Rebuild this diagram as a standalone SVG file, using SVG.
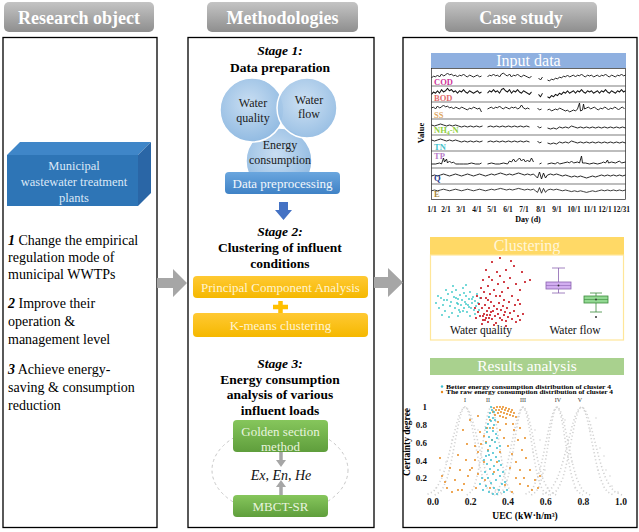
<svg xmlns="http://www.w3.org/2000/svg" width="639" height="532" viewBox="0 0 639 532">
<style>
text{font-family:"Liberation Serif","Times New Roman",serif;}
.hdr{fill:#fff;font-size:18px;font-weight:bold;text-anchor:middle}
.panel{fill:#fff;stroke:#000;stroke-width:1.3}
.lt{font-size:14px;fill:#000}
.num{font-weight:bold;font-style:italic}
.mh{font-size:13.5px;font-weight:bold;text-anchor:middle;fill:#000}
.ct{font-size:12px;text-anchor:middle;fill:#1a1a1a}
.bt{font-size:13px;text-anchor:middle}
.ts{fill:none;stroke:#111;stroke-width:0.9;stroke-linejoin:round}
.sep{stroke:#222;stroke-width:0.6}
.rl{font-size:8.5px;font-weight:bold}
.ax{font-size:7.5px;font-weight:bold;text-anchor:middle;fill:#111}
.ay{font-size:9px;font-weight:bold;text-anchor:end;fill:#111}
.ax2{font-size:9.5px;font-weight:bold;text-anchor:middle;fill:#111}
.dots{fill:none;stroke-linecap:round}
.cloud{fill:none;stroke:#d2d2d2;stroke-width:1.6;stroke-dasharray:1.2 2.4}
.garr{fill:#a6a6a6}
</style>
<defs>
<linearGradient id="gh" x1="0" y1="0" x2="0" y2="1"><stop offset="0" stop-color="#c4c4c4"/><stop offset="1" stop-color="#8e8e8e"/></linearGradient>
<radialGradient id="gcirc" cx="0.45" cy="0.4" r="0.6"><stop offset="0" stop-color="#c9def2"/><stop offset="1" stop-color="#92bbe2"/></radialGradient>
<linearGradient id="gblue" x1="0" y1="0" x2="0" y2="1"><stop offset="0" stop-color="#6aa6de"/><stop offset="1" stop-color="#3f82c6"/></linearGradient>
<linearGradient id="gyel" x1="0" y1="0" x2="0" y2="1"><stop offset="0" stop-color="#ffc933"/><stop offset="1" stop-color="#f5b800"/></linearGradient>
<linearGradient id="ggrn" x1="0" y1="0" x2="0" y2="1"><stop offset="0" stop-color="#86c65c"/><stop offset="1" stop-color="#5f9e3c"/></linearGradient>
<path id="sA" d="M0,2 L2,0 L4,1 L6,-1 L8,1 L10,-2 L12,0 L14,-1 L16,-3 L18,-1 L20,-2 L22,0 L24,-1 L26,1 L28,-1 L30,0 L32,-2 L34,0 L36,1 L38,-1 L40,0 L42,1 L44,0 L46,-1 L48,1 L50,0 M56,1 L58,-1 L60,0 L62,-2 L64,0 L66,-1 L68,1 L70,-2 L72,-3 L74,-1 L76,0 L78,-2 L80,1 L82,-1 L84,0 L86,-2 L88,0 L90,1 L92,-1 L94,0 L96,1 L98,2 L100,0 M107,2 L109,4 L111,1 M116,4 L118,5 L120,3 L122,4 L124,2 L126,3 L128,1 L130,2 L132,0 L134,1 L136,-1 L138,1 L140,0 L142,-1 L144,1 L146,-1 L148,0 L150,-2 L152,0 L154,1 L156,-1 L158,0 L160,-1 L162,1 L164,0 L166,-1 L168,1 L170,-1 L172,0 L174,-2 L176,0 L178,1 L180,-1 L182,0 L184,1 L186,-1 L188,0 L190,-2 L192,0 L194,-1"/>
<path id="sB" d="M0,0 L2,-1 L4,1 L6,-2 L8,0 L10,-1 L12,-3 L14,-1 L16,-2 L18,0 L20,-1 L22,1 L24,-1 L26,0 L28,1 L30,-1 L32,0 L34,1 L36,2 L38,0 L40,1 L42,-1 L44,0 L46,1 L48,0 L50,4 M56,1 L58,0 L60,-1 L62,1 L64,-1 L66,0 L68,-2 L70,0 L72,1 L74,-1 L76,0 L78,1 L80,-1 L82,0 L84,-1 L86,1 L88,0 L90,-3 L92,0 L94,1 L96,0 L98,1 M106,0 L108,2 L110,1 M116,2 L118,1 L120,3 L122,2 L124,1 L126,2 L128,0 L130,1 L132,2 L134,3 L136,2 L138,4 L140,3 L142,2 L144,3 L146,1 L148,-5 L149,3 L151,2 L152,-4 L153,1 L155,0 L157,-1 L159,1 L161,0 L163,-1 L165,1 L167,2 L169,0 L171,1 L173,-1 L175,0 L177,2 L179,0 L181,1 L183,-1 L185,0 L187,2 L189,0 L191,-1 L193,1"/>
<path id="sC" d="M0,-1 L3,0 L6,-1 L9,-2 L12,-1 L15,0 L18,-1 L21,0 L24,-1 L27,0 L30,1 L33,0 L36,1 L39,0 L42,1 L45,0 L48,1 L51,0 M56,1 L59,0 L62,1 L65,0 L68,1 L71,0 L74,1 L77,0 L80,1 L83,0 L86,1 L89,0 L92,1 L95,0 L98,1 M106,0 L108,2 L110,1 M116,2 L119,3 L122,2 L125,3 L128,1 L131,2 L134,1 L137,2 L140,0 L143,1 L146,2 L149,1 L152,2 L155,1 L158,2 L161,1 L164,2 L167,1 L170,2 L173,1 L176,2 L179,1 L182,2 L185,1 L188,2 L191,1 L194,2"/>
<path id="sD" d="M0,0 L4,0 L8,-1 L10,0 L12,-6 L13,-2 L15,-5 L16,-1 L18,-3 L20,-1 L22,-2 L24,0 L28,0 L32,0 L36,0 L40,-1 L44,0 L48,0 L50,-1 M56,0 L60,-1 L64,0 L68,0 L72,-1 L76,0 L78,-3 L80,-2 L82,-5 L84,-2 L86,-4 L88,-6 L90,-3 L92,-5 L94,-2 L96,-4 L98,-2 L100,-6 L102,-2 M108,0 L110,-1 M116,0 L120,-1 L124,0 L126,-2 L128,0 L132,-1 L136,-2 L138,-1 L140,-3 L142,-1 L146,-2 L148,-1 L150,-8 L151,-1 L154,-1 L158,0 L162,-1 L166,0 L170,-1 L172,-2 L174,-1 L176,-4 L177,-1 L180,-2 L184,-1 L188,-3 L190,-1 L194,-2"/>
<path id="sE" d="M0,1 L3,0 L6,1 L9,0 L12,-1 L15,0 L18,1 L21,0 L24,-1 L27,0 L30,1 L33,0 L36,-1 L39,0 L42,1 L45,0 L48,-1 L51,0 L54,1 L57,0 L60,-1 L63,0 L66,-1 L69,-2 L72,-1 L75,0 L78,-1 L81,0 L84,-1 L87,-2 L90,-1 L93,0 L96,-1 L99,0 L102,-1 L104,1 L106,3 L108,-3 L110,4 L112,-2 L114,3 L116,0 L119,-1 L122,0 L125,-1 L128,0 L131,1 L134,0 L137,1 L140,2 L143,1 L146,2 L149,1 L152,2 L155,3 L158,2 L161,1 L164,2 L167,1 L170,0 L173,1 L176,0 L179,1 L182,0 L185,1 L188,0 L191,1 L194,0"/>
<path id="gc" vector-effect="non-scaling-stroke" d="M-30.3,495.1 L-24.5,491.6 L-21.5,487.1 L-17.9,478.2 L-15.5,469.3 L-13.5,460.4 L-11.8,451.5 L-10.1,442.6 L-8.4,433.7 L-6.7,424.8 L-4.6,415.9 L-3.2,411.5 L-1.4,407.9 L0,407 L1.4,407.9 L3.2,411.5 L4.6,415.9 L6.7,424.8 L8.4,433.7 L10.1,442.6 L11.8,451.5 L13.5,460.4 L15.5,469.3 L17.9,478.2 L21.5,487.1 L24.5,491.6 L30.3,495.1"/>
</defs>

<rect width="639" height="532" fill="#fff"/>

<!-- headers -->
<g id="hdr-research"><rect x="4" y="2" width="150" height="30" rx="5" fill="url(#gh)"/><text class="hdr" x="79" y="24">Research object</text></g>
<g id="hdr-method"><rect x="207" y="2" width="151" height="30" rx="5" fill="url(#gh)"/><text class="hdr" x="282.5" y="24">Methodologies</text></g>
<g id="hdr-case"><rect x="445" y="2" width="152" height="30" rx="5" fill="url(#gh)"/><text class="hdr" x="521" y="24">Case study</text></g>

<!-- panels -->
<g id="panel-research">
<rect class="panel" x="3" y="37.5" width="154" height="490"/>
<g id="wwtp">
<polygon points="7,155 20,142 151,142 138,155" fill="#3f86c8"/>
<polygon points="138,155 151,142 151,193 138,206" fill="#2a66a6"/>
<rect x="7" y="155" width="131" height="51" fill="#2e75b6"/>
<text x="74" y="170" font-size="12.5" text-anchor="middle" fill="#dbe8f6">Municipal</text>
<text x="74" y="186" font-size="12.5" text-anchor="middle" fill="#dbe8f6">wastewater treatment</text>
<text x="74" y="202" font-size="12.5" text-anchor="middle" fill="#dbe8f6">plants</text>
</g>
<g id="goals">
<text class="lt" x="8" y="245"><tspan class="num">1</tspan>  Change the empirical</text>
<text class="lt" x="8" y="262">regulation mode of</text>
<text class="lt" x="8" y="279">municipal WWTPs</text>
<text class="lt" x="8" y="308"><tspan class="num">2</tspan>  Improve their</text>
<text class="lt" x="8" y="326">operation &amp;</text>
<text class="lt" x="8" y="344">management level</text>
<text class="lt" x="8" y="374"><tspan class="num">3</tspan>  Achieve energy-</text>
<text class="lt" x="8" y="392">saving &amp; consumption</text>
<text class="lt" x="8" y="410">reduction</text>
</g>
</g>

<g id="panel-method">
<rect class="panel" x="188" y="37.5" width="186" height="490"/>
<g id="stage1">
<text class="mh" x="280" y="55" font-style="italic">Stage 1:</text>
<text class="mh" x="280" y="72">Data preparation</text>
<circle cx="279" cy="161" r="33" fill="url(#gcirc)" stroke="#fff" stroke-width="1.5"/>
<circle cx="252" cy="110" r="32" fill="url(#gcirc)" stroke="#fff" stroke-width="1.5"/>
<circle cx="307" cy="108" r="30" fill="url(#gcirc)" stroke="#fff" stroke-width="1.5" fill-opacity="0.92"/>
<text class="ct" x="253" y="107">Water</text>
<text class="ct" x="253" y="122">quality</text>
<text class="ct" x="309" y="104">Water</text>
<text class="ct" x="309" y="118">flow</text>
<text class="ct" x="280" y="149">Energy</text>
<text class="ct" x="280" y="164">consumption</text>
</g>
<g id="preprocess"><rect x="225" y="172" width="115" height="22" rx="4" fill="url(#gblue)"/><text class="bt" x="282.5" y="188" fill="#f2f7fc">Data preprocessing</text></g>
<polygon points="279,202 288,202 288,210 292,210 283.5,220 275,210 279,210" fill="#4472c4"/>
<g id="stage2">
<text class="mh" x="280" y="236" font-style="italic">Stage 2:</text>
<text class="mh" x="280" y="252">Clustering of influent</text>
<text class="mh" x="280" y="268">conditions</text>
</g>
<g id="pca"><rect x="193" y="276" width="175" height="22" rx="4" fill="url(#gyel)"/><text class="bt" x="280.5" y="292" fill="#fff4d2">Principal Component Analysis</text></g>
<path d="M273,307 H288 M280.5,301 V313" stroke="#ffc000" stroke-width="4.5"/>
<g id="kmeans"><rect x="193" y="313" width="175" height="24" rx="4" fill="url(#gyel)"/><text class="bt" x="280.5" y="330" fill="#fff4d2">K-means clustering</text></g>
<g id="stage3">
<text class="mh" x="280" y="368" font-style="italic">Stage 3:</text>
<text class="mh" x="280" y="384">Energy consumption</text>
<text class="mh" x="280" y="399">analysis of various</text>
<text class="mh" x="280" y="415">influent loads</text>
</g>
<ellipse cx="280" cy="470" rx="68" ry="44" fill="none" stroke="#c8c8c8" stroke-dasharray="3 3"/>
<g id="golden"><rect x="233" y="420" width="95" height="32" rx="4" fill="url(#ggrn)"/><text class="bt" x="280.5" y="436" font-size="13.5" fill="#e8f4df">Golden section</text><text class="bt" x="280.5" y="451" font-size="13.5" fill="#e8f4df">method</text></g>
<g id="exenhe"><text x="281" y="480" font-size="14" font-style="italic" text-anchor="middle" fill="#111">Ex, En, He</text></g>
<g id="mbct"><rect x="233" y="495" width="95" height="22" rx="4" fill="url(#ggrn)"/><text class="bt" x="280.5" y="511" fill="#e8f4df">MBCT-SR</text></g>
</g>

<g id="panel-case">
<rect class="panel" x="403" y="37.5" width="234" height="490"/>
<g id="input-data">
<rect x="431" y="53" width="195" height="15" fill="#8fb0e0"/>
<text x="528.5" y="66" font-size="16" text-anchor="middle" fill="#fff">Input data</text>
<rect x="431.5" y="68.5" width="194" height="131" fill="#fff" stroke="#222" stroke-width="0.7"/>
<path class="sep" d="M431.5,86H625.5M431.5,102H625.5M431.5,119H625.5M431.5,135H625.5M431.5,151H625.5M431.5,168H625.5M431.5,184H625.5"/>
<g class="ts">
<use href="#sA" transform="translate(431.5,76)"/>
<use href="#sA" transform="translate(431.5,92) scale(1,1.2)"/>
<use href="#sB" transform="translate(431.5,108)"/>
<use href="#sC" transform="translate(431.5,126)"/>
<use href="#sC" transform="translate(431.5,141)"/>
<use href="#sD" transform="translate(431.5,164)"/>
<use href="#sE" transform="translate(431.5,175)"/>
<use href="#sE" transform="translate(431.5,190) scale(1,0.8)"/>
</g>
<text class="rl" x="434" y="85" fill="#cc3399">COD</text>
<text class="rl" x="434" y="101" fill="#e26b6b">BOD</text>
<text class="rl" x="434" y="118" fill="#e0a865">SS</text>
<text class="rl" x="434" y="133" fill="#8fcf3f">NH<tspan font-size="6" dy="2">4</tspan><tspan dy="-2">-N</tspan></text>
<text class="rl" x="434" y="150" fill="#45c2cc">TN</text>
<text class="rl" x="434" y="159" fill="#b77cc8">TP</text>
<text class="rl" x="434" y="181" fill="#1f3b8c">Q</text>
<text class="rl" x="434" y="197" fill="#a8863c">E</text>
<text x="424" y="133" font-size="8.5" font-weight="bold" text-anchor="middle" transform="rotate(-90 424 133)">Value</text>
<g class="ax">
<text x="432" y="212">1/1</text><text x="446" y="212">2/1</text><text x="461" y="212">3/1</text><text x="477" y="212">4/1</text><text x="492" y="212">5/1</text><text x="508" y="212">6/1</text><text x="524" y="212">7/1</text><text x="541" y="212">8/1</text><text x="557" y="212">9/1</text><text x="574" y="212">10/1</text><text x="590" y="212">11/1</text><text x="605" y="212">12/1</text><text x="621.5" y="212">12/31</text>
</g>
<text x="528" y="222" font-size="8" font-weight="bold" text-anchor="middle">Day  (d)</text>
</g>

<g id="clustering">
<rect x="430" y="237" width="194" height="18" fill="#ffd966"/>
<text x="527" y="251" font-size="16" text-anchor="middle" fill="#fff6d8">Clustering</text>
<rect x="430.5" y="255" width="193" height="85" fill="#fff" stroke="#ffe699" stroke-width="1.2"/>
<path class="dots" stroke="#48cccc" stroke-width="2" d="M436,303h0M439,308h0M441,298h0M443,305h0M445,311h0M447,300h0M448,294h0M450,306h0M451,302h0M452,313h0M454,297h0M455,308h0M456,290h0M457,303h0M458,299h0M459,310h0M460,295h0M461,305h0M462,300h0M463,288h0M464,308h0M465,302h0M466,296h0M467,312h0M468,305h0M469,299h0M470,292h0M471,308h0M472,303h0M473,297h0M474,310h0M475,301h0M476,306h0M477,294h0M478,303h0M479,310h0M480,298h0M442,315h0M449,317h0M446,290h0M453,286h0M466,285h0M438,296h0M458,316h0M470,316h0M444,300h0M460,312h0M475,314h0M452,292h0M464,293h0M456,298h0M463,311h0M469,307h0M472,299h0M458,304h0M466,304h0"/>
<path class="dots" stroke="#c8141e" stroke-width="2.2" d="M478,312h0M480,316h0M482,308h0M483,320h0M484,314h0M485,305h0M486,318h0M487,311h0M488,322h0M489,308h0M490,315h0M491,302h0M492,319h0M493,311h0M494,306h0M495,316h0M496,323h0M497,309h0M498,314h0M499,303h0M500,318h0M501,310h0M502,320h0M503,306h0M504,315h0M505,312h0M506,321h0M507,308h0M508,317h0M510,313h0M512,319h0M514,311h0M516,322h0M518,316h0M520,320h0M523,314h0M476,318h0M479,304h0M481,298h0M484,292h0M486,298h0M488,286h0M490,294h0M492,280h0M494,290h0M496,296h0M498,284h0M500,276h0M502,292h0M504,282h0M506,270h0M508,288h0M510,278h0M512,296h0M514,266h0M516,284h0M518,300h0M520,290h0M522,272h0M525,282h0M486,270h0M492,262h0M500,258h0M511,261h0M504,300h0M509,302h0M515,305h0M483,280h0M477,296h0M520,304h0M497,272h0M489,277h0M482,324h0M494,325h0M506,326h0M475,308h0M481,288h0M530,280h0M488,300h0M500,296h0M483,316h0M487,315h0M491,312h0M485,320h0M489,318h0"/>
<g id="box-q">
<path d="M558.5,268V282M558.5,289V293M552,268H565M552,293H565" stroke="#8a62b0" stroke-width="0.8" fill="none"/>
<rect x="546" y="282" width="25" height="7" fill="#d2aef0" stroke="#8a62b0" stroke-width="0.8"/>
<path d="M546,285.5H571" stroke="#8a62b0" stroke-width="0.6"/>
<circle cx="558.5" cy="285.5" r="0.9" fill="#333"/>
</g>
<g id="box-f">
<path d="M596,293V296M596,303V312M590,293H602M590,312H602" stroke="#3a8a3a" stroke-width="0.8" fill="none"/>
<rect x="584" y="296" width="24" height="7" fill="#92d892" stroke="#3a8a3a" stroke-width="0.8"/>
<path d="M584,299.5H608" stroke="#3a8a3a" stroke-width="0.6"/>
<circle cx="596" cy="299.5" r="0.9" fill="#333"/>
<circle cx="596" cy="317" r="1" fill="#333"/>
</g>
<text x="481" y="334" font-size="11.5" text-anchor="middle" fill="#111">Water quality</text>
<text x="575" y="334" font-size="11.5" text-anchor="middle" fill="#111">Water flow</text>
</g>

<g id="results">
<rect x="430" y="358" width="194" height="17" fill="#a9d18e"/>
<text x="527" y="371" font-size="15.5" text-anchor="middle" fill="#fff">Results analysis</text>
<g class="cloud">
<use href="#gc" transform="translate(465,0) scale(1.0,1)"/>
<use href="#gc" transform="translate(465,0) scale(1.3,1)" stroke-dashoffset="1.5"/>
<use href="#gc" transform="translate(491,0) scale(0.8,1)"/>
<use href="#gc" transform="translate(523,0) scale(0.85,1)"/>
<use href="#gc" transform="translate(523,0) scale(1.1,1)" stroke-dashoffset="1.5"/>
<use href="#gc" transform="translate(557,0) scale(0.85,1)"/>
<use href="#gc" transform="translate(557,0) scale(1.1,1)" stroke-dashoffset="1.5"/>
<use href="#gc" transform="translate(581.5,0) scale(1.05,1)"/>
<use href="#gc" transform="translate(581.5,0) scale(1.35,1)" stroke-dashoffset="1.5"/>
</g>
<path class="dots" stroke="#d4d4d4" stroke-width="1.6" d="M440,470h0M446,462h0M436,488h0M452,440h0M478,430h0M533,452h0M540,440h0M545,470h0M568,440h0M572,462h0M590,430h0M600,448h0M606,470h0M612,486h0M598,470h0M575,488h0M548,488h0M535,430h0M565,420h0M596,418h0M604,456h0M618,492h0M610,476h0"/>
<path class="dots" stroke="#e88a1e" stroke-width="2" d="M494,408h0M497,407h0M500,407h0M503,407h0M506,408h0M509,409h0M512,410h0M496,410h0M499,410h0M502,409h0M505,410h0M508,411h0M511,412h0M514,413h0M498,413h0M501,412h0M504,413h0M507,414h0M510,415h0M500,416h0M503,417h0M506,418h0M493,412h0M495,415h0M513,416h0M516,417h0M490,420h0M487,428h0M484,436h0M481,444h0M478,452h0M475,460h0M472,468h0M468,476h0M464,484h0M458,490h0M452,492h0M470,470h0M478,474h0M484,462h0M488,450h0M492,440h0M486,442h0M480,432h0M475,446h0M466,460h0M460,470h0M455,480h0M447,488h0M442,476h0M462,490h0M485,480h0M490,488h0M476,488h0M500,430h0M504,438h0M508,446h0M512,454h0M516,462h0M520,470h0M524,478h0M528,486h0M532,490h0M514,430h0M518,440h0M522,450h0M526,458h0M510,468h0M516,478h0M505,485h0M512,492h0M520,484h0M530,470h0M535,480h0M500,452h0M497,462h0M494,472h0M506,424h0M513,424h0M498,422h0M493,428h0M520,428h0M525,438h0M467,444h0M463,430h0M470,420h0M478,416h0M450,468h0M458,455h0M440,458h0M445,482h0M538,488h0M540,476h0"/>
<path class="dots" stroke="#3cbfd0" stroke-width="2" d="M491,407h0M492,410h0M490,413h0M494,412h0M489,417h0M493,418h0M491,421h0M488,424h0M494,425h0M490,428h0M487,432h0M493,431h0M496,434h0M489,437h0M492,440h0M486,443h0M495,442h0M490,446h0M497,448h0M488,451h0M493,453h0M486,456h0M496,457h0M491,460h0M499,461h0M487,464h0M494,466h0M490,469h0M498,470h0M485,472h0M493,474h0M500,476h0M488,478h0M496,480h0M491,483h0M502,484h0M486,486h0M494,488h0M499,490h0M489,492h0M504,492h0M497,494h0M483,490h0M482,478h0M501,465h0M503,472h0M484,460h0M497,438h0M500,446h0M486,428h0M495,420h0M489,455h0M505,482h0M493,494h0M507,490h0M480,484h0"/>
<circle cx="442" cy="386.5" r="1.2" fill="#3cbfd0"/>
<text x="446" y="388.5" font-size="5.4" font-weight="bold" textLength="165" lengthAdjust="spacingAndGlyphs">Better energy consumption distribution of cluster 4</text>
<circle cx="442" cy="392" r="1.2" fill="#e88a1e"/>
<text x="446" y="394" font-size="5.4" font-weight="bold" textLength="167" lengthAdjust="spacingAndGlyphs">The raw energy consumption distribution of cluster 4</text>
<g font-size="6" text-anchor="middle" fill="#333">
<text x="465" y="402">I</text><text x="488" y="402">II</text><text x="523" y="402">III</text><text x="558" y="402">IV</text><text x="580" y="402">V</text>
</g>
<g class="ay">
<text x="427" y="410">1</text><text x="427" y="428">0.8</text><text x="427" y="446">0.6</text><text x="427" y="464">0.4</text><text x="427" y="481">0.2</text>
</g>
<g class="ax2">
<text x="433" y="505">0.0</text><text x="470.6" y="505">0.2</text><text x="508" y="505">0.4</text><text x="545.8" y="505">0.6</text><text x="583.4" y="505">0.8</text><text x="621" y="505">1.0</text>
</g>
<text x="525" y="519" font-size="9.5" font-weight="bold" text-anchor="middle">UEC (kW·h/m³)</text>
<text x="410" y="442" font-size="9.5" font-weight="bold" text-anchor="middle" transform="rotate(-90 410 442)">Certainty degree</text>
</g>
</g>

<!-- connectors -->
<g id="connectors">
<polygon class="garr" points="157,278 173,278 173,269 187,283 173,297 173,288 157,288"/>
<polygon class="garr" points="374,277 388,277 388,268 403,282.5 388,297 388,288 374,288"/>
<path d="M281,452V461" stroke="#a6a6a6" stroke-width="3.5"/>
<polygon class="garr" points="276,460 286,460 281,467"/>
<path d="M281,495V486" stroke="#a6a6a6" stroke-width="3.5"/>
<polygon class="garr" points="276,487 286,487 281,480"/>
</g>
</svg>
